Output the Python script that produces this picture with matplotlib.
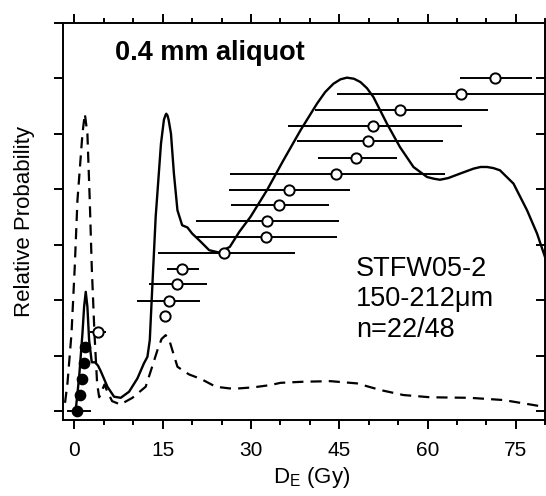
import numpy as np
import matplotlib
matplotlib.use("Agg")
import matplotlib.pyplot as plt

plt.rcParams['font.family'] = ['Liberation Sans', 'DejaVu Sans']
plt.rcParams['mathtext.default'] = 'regular'

# ---- data ----
# equivalent doses (Gy), ranked, with lower / upper ends of error bars
de = [0.5, 0.88, 1.22, 1.68, 1.85, 4.0, 15.4, 16.0, 17.5, 18.3, 25.4,
      32.5, 32.7, 34.8, 36.4, 44.4, 47.8, 49.9, 50.8, 55.3, 65.6, 71.5]
de_lo = [-1.2, 0.6, 0.95, 1.4, 1.55, 2.7, 14.9, 10.7, 12.7, 15.7, 14.2,
         20.5, 20.6, 26.6, 26.2, 26.5, 41.3, 37.8, 36.2, 40.9, 44.6, 65.5]
de_hi = [2.77, 1.15, 1.5, 1.95, 2.15, 5.3, 15.9, 21.4, 22.5, 21.2, 37.4,
         44.6, 45.0, 43.3, 46.9, 62.9, 54.8, 62.6, 65.8, 70.3, 86.6, 77.8]
rank_y = [0.0, 0.29, 0.58, 0.86, 1.15, 1.43, 1.71, 1.99, 2.29, 2.57, 2.85,
          3.14, 3.42, 3.71, 3.99, 4.28, 4.57, 4.86, 5.14, 5.43, 5.71, 6.0]
filled = [True, True, True, True, True, False, False, False, False, False, False,
          False, False, False, False, False, False, False, False, False, False, False]

# probability curve of this aliquot set (solid)
solid_x = [0.2, 0.8, 1.36, 1.64, 1.92, 2.2, 2.49, 2.94, 3.5, 4.0, 4.47, 5.6, 6.73,
           7.87, 9.28, 10.7, 11.8, 12.4, 12.8, 13.2, 13.8, 14.7, 15.2, 15.45, 15.6,
           15.8, 16.0, 16.4, 16.9, 17.5, 18.3, 19.2, 20.0, 21.2, 22.9, 24.5, 26.4,
           28.0, 29.9, 32.7, 35.5, 38.4, 41.2, 42.6, 44.0, 45.2, 46.3, 47.5, 48.6,
           49.7, 50.8, 53.1, 55.3, 57.6, 59.9, 61.0, 62.1, 63.5, 65.5, 67.8, 69.0,
           70.1, 71.2, 72.3, 74.6, 76.9, 78.6, 80.2]
solid_y = [0.0, 0.62, 1.4, 1.88, 2.15, 1.88, 1.28, 0.88, 0.88, 0.82, 0.72, 0.44, 0.26,
           0.24, 0.35, 0.59, 0.86, 0.98, 1.28, 2.18, 3.5, 4.82, 5.25, 5.33, 5.36,
           5.33, 5.25, 5.0, 4.28, 3.62, 3.35, 3.31, 3.2, 3.08, 2.9, 2.86, 2.96,
           3.23, 3.5, 3.98, 4.52, 5.06, 5.54, 5.75, 5.9, 5.98, 6.01, 5.99, 5.93,
           5.82, 5.66, 5.18, 4.76, 4.4, 4.22, 4.19, 4.17, 4.2, 4.28, 4.37, 4.4,
           4.4, 4.38, 4.34, 4.1, 3.62, 3.2, 2.7]

# comparison curve (dashed)
dash_x = [-1.6, -1.19, -0.5, 0.05, 0.51, 1.36, 1.76, 2.2, 2.6, 2.94, 3.4, 3.85,
          4.2, 4.6, 5.1, 5.6, 6.4, 7.8, 9.85, 12.1, 13.2, 14.1, 14.8, 15.5, 16.2,
          16.8, 17.5, 18.6, 19.5, 21.5, 24.0, 26.3, 28.0, 30.5, 33.3, 35.0, 38.9,
          43.5, 48.0, 52.0, 55.9, 60.4, 67.2, 72.9, 78.0, 80.2]
dash_y = [0.15, 0.5, 1.4, 2.6, 3.8, 5.0, 5.36, 5.0, 3.8, 2.6, 1.4, 0.5,
          0.25, 0.35, 0.48, 0.35, 0.18, 0.12, 0.24, 0.44, 0.8, 1.1, 1.3, 1.37, 1.25,
          1.04, 0.8, 0.72, 0.66, 0.58, 0.44, 0.41, 0.41, 0.43, 0.47, 0.51, 0.53,
          0.54, 0.5, 0.38, 0.29, 0.25, 0.24, 0.2, 0.11, 0.07]

x_ticks = [0, 15, 30, 45, 60, 75]
x_minor = [5, 10, 20, 25, 35, 40, 50, 55, 65, 70, 80]
y_ticks = [0, 1, 2, 3, 4, 5, 6, 7]

# ---- figure ----
fig = plt.figure(figsize=(5.46, 4.96), dpi=100)
ax = fig.add_axes([0.1148, 0.1532, 0.8839, 0.801])

ax.plot(dash_x, dash_y, color='black', lw=1.6, ls=(0, (5, 3.2)), zorder=2)

de_a = np.array(de)
lo = de_a - np.array(de_lo)
hi = np.array(de_hi) - de_a
ax.errorbar(de, rank_y, xerr=[lo, hi], fmt='none', ecolor='black',
            elinewidth=1.4, capsize=0, zorder=3)
ax.plot(solid_x, solid_y, color='black', lw=1.7, zorder=4)

fill_mask = np.array(filled)
ry = np.array(rank_y)
ax.plot(de_a[~fill_mask], ry[~fill_mask], 'o', ms=7.4, mfc='white', mec='black',
        mew=1.4, zorder=5, ls='none')
ax.plot(de_a[fill_mask], ry[fill_mask], 'o', ms=7.4, mfc='black', mec='black',
        mew=1.0, zorder=5, ls='none')

ax.set_xlim(-2, 80)
ax.set_ylim(-0.16, 7)
ax.set_xticks(x_ticks)
ax.set_xticks(x_minor, minor=True)
ax.set_yticks(y_ticks)
ax.set_yticklabels([])

ax.tick_params(axis='x', which='major', direction='out', length=6.7, width=1.4,
               labelsize=15, pad=8.5, top=True)
ax.tick_params(axis='x', which='minor', direction='out', length=3.8, width=1.4, top=True)
ax.tick_params(axis='y', which='major', direction='out', length=6.7, width=1.4, left=True)
for s in ax.spines.values():
    s.set_linewidth(1.4)

# inward ticks on right side
for v in y_ticks[:-1]:
    ax.plot([1.0, 0.983], [v, v], transform=ax.get_yaxis_transform(),
            color='black', lw=1.4, clip_on=False, zorder=6)

ax.set_xlabel('D$_{E}$ (Gy)', fontsize=16)
ax.xaxis.set_label_coords(0.516, -0.112)
ax.set_ylabel('Relative Probability', fontsize=16)
ax.yaxis.set_label_coords(-0.057, 0.5)

ax.text(0.108, 0.905, '0.4 mm aliquot', transform=ax.transAxes, fontsize=19.5,
        fontweight='bold', ha='left', va='baseline')
ax.text(0.608, 0.363, 'STFW05-2', transform=ax.transAxes, fontsize=19.5,
        ha='left', va='baseline')
ax.text(0.608, 0.286, '150-212\u03bcm', transform=ax.transAxes, fontsize=19.5,
        ha='left', va='baseline')
ax.text(0.608, 0.21, 'n=22/48', transform=ax.transAxes, fontsize=19.5,
        ha='left', va='baseline')

fig.savefig('out.png', dpi=100)
